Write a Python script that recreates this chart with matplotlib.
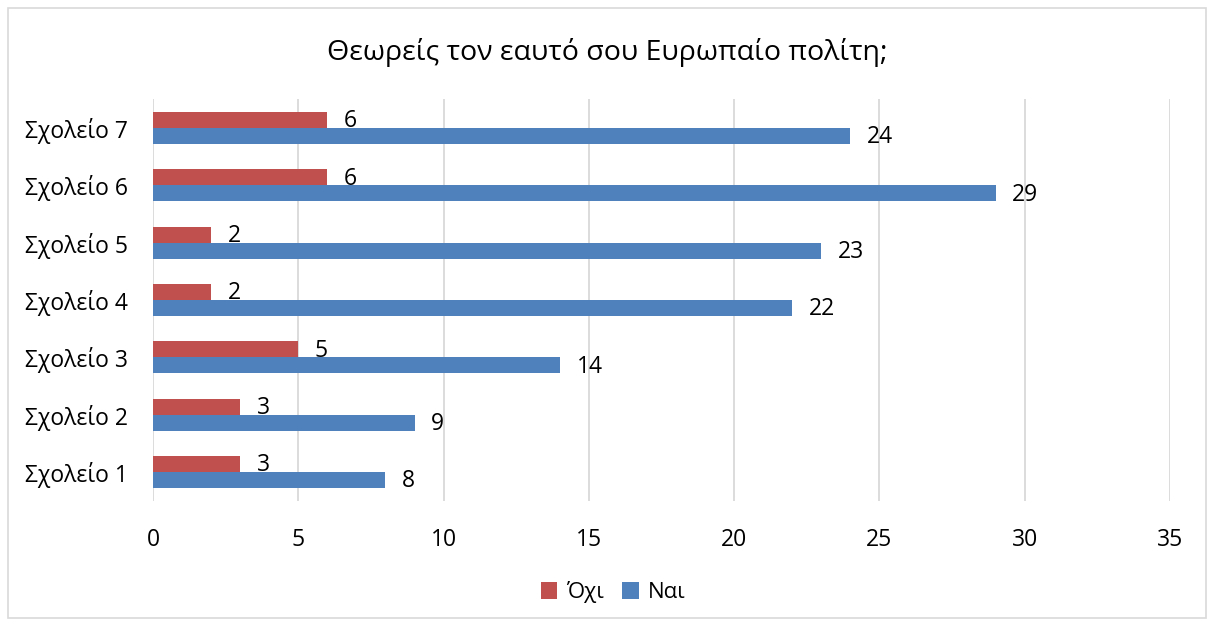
import matplotlib
matplotlib.use("Agg")
import matplotlib.pyplot as plt
from matplotlib.patches import Rectangle
import numpy as np

plt.rcParams['font.family'] = ['Open Sans', 'DejaVu Sans']

categories = ["Σχολείο 1", "Σχολείο 2", "Σχολείο 3", "Σχολείο 4",
              "Σχολείο 5", "Σχολείο 6", "Σχολείο 7"]
nai = [8, 9, 14, 22, 23, 29, 24]
oxi = [3, 3, 5, 2, 2, 6, 6]
title = "Θεωρείς τον εαυτό σου Ευρωπαίο πολίτη;"

BLUE = "#4F81BD"
RED = "#C0504D"
GRID = "#D9D9D9"

fig = plt.figure(figsize=(12.14, 6.26), dpi=100)
ax = fig.add_axes([0.126, 0.2002, 0.8378, 0.6412])

y = np.arange(len(categories))
h = 0.28
b_nai = ax.barh(y - h / 2, nai, height=h, color=BLUE, label="Ναι", zorder=3)
b_oxi = ax.barh(y + h / 2, oxi, height=h, color=RED, label="Όχι", zorder=3)

for bars, vals in ((b_nai, nai), (b_oxi, oxi)):
    for bar, v in zip(bars, vals):
        ax.annotate(str(v), (bar.get_width(), bar.get_y() + bar.get_height() / 2),
                    xytext=(12, -1), textcoords="offset points",
                    ha="left", va="center", fontsize=16.5, zorder=4)

ax.set_xlim(0, 35)
ax.set_ylim(-0.5, len(categories) - 0.5)
ax.set_xticks(np.arange(0, 36, 5))
ax.set_yticks(y)
ax.set_yticklabels(categories)
ax.tick_params(axis="both", length=0, labelsize=16.5)
ax.tick_params(axis="x", pad=20)
ax.tick_params(axis="y", pad=18)
ax.grid(axis="x", color=GRID, linewidth=1.3, zorder=0)
for s in ax.spines.values():
    s.set_visible(False)

fig.suptitle(title, y=0.94, fontsize=20.5)

handles = [b_oxi, b_nai]
fig.legend(handles, ["Όχι", "Ναι"], loc="center", bbox_to_anchor=(0.505, 0.054),
           ncol=2, frameon=False, fontsize=16, handlelength=0.75, handleheight=0.75,
           handletextpad=0.4, columnspacing=0.8)

fig.patches.append(Rectangle((0.0066, 0.0128), 0.987, 0.975, transform=fig.transFigure,
                             fill=False, edgecolor=GRID, linewidth=1.2))

fig.savefig("out.png", dpi=100)
